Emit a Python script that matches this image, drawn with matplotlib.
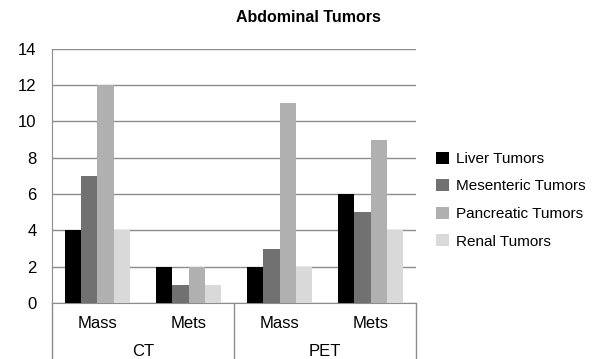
import matplotlib.pyplot as plt
import numpy as np

plt.rcParams['font.family'] = ['Liberation Sans', 'DejaVu Sans']

# data
groups = ['CT', 'PET']
subgroups = ['Mass', 'Mets', 'Mass', 'Mets']
series = ['Liver Tumors', 'Mesenteric Tumors', 'Pancreatic Tumors', 'Renal Tumors']
liver = [4, 2, 2, 6]
mesenteric = [7, 1, 3, 5]
pancreatic = [12, 2, 11, 9]
renal = [4, 1, 2, 4]

colors = ['#000000', '#717171', '#b0b0b0', '#d9d9d9']
grid_color = '#8c8c8c'
fs = 12        # axis labels
leg_fs = 11    # legend

fig = plt.figure(figsize=(5.96, 3.59), dpi=100)
ax = fig.add_axes([0.0872, 0.156, 0.611, 0.708])

x = np.arange(len(subgroups)) + 0.5
width = 0.18
for i, (name, vals) in enumerate(zip(series, [liver, mesenteric, pancreatic, renal])):
    ax.bar(x + (i - 1.5) * width, vals, width, color=colors[i], label=name, zorder=3)

ax.set_xlim(0, 4)
ax.set_ylim(0, 14)
ax.set_yticks(range(0, 15, 2))
ax.tick_params(axis='y', length=0, pad=11, labelsize=fs)
ax.set_xticks([])
ax.yaxis.grid(True, color=grid_color, linewidth=1)
ax.set_axisbelow(True)
for s in ['top', 'right']:
    ax.spines[s].set_visible(False)
ax.spines['left'].set_color(grid_color)
ax.spines['bottom'].set_color(grid_color)

# two-level category axis drawn below the plot
trans = ax.get_xaxis_transform()
for xv in [0, 2, 4]:
    ax.plot([xv, xv], [0, -0.23], color=grid_color, linewidth=1,
            transform=trans, clip_on=False)
for xv, lab in zip(x, subgroups):
    ax.text(xv, -0.079, lab, transform=trans, ha='center', va='center', fontsize=fs)
for xv, lab in zip([1, 3], groups):
    ax.text(xv, -0.19, lab, transform=trans, ha='center', va='center', fontsize=fs)

fig.text(0.517, 0.952, 'Abdominal Tumors', ha='center', va='center',
         fontsize=11.5, fontweight='bold')

ax.legend(loc='center left', bbox_to_anchor=(1.038, 0.405), frameon=False,
          borderaxespad=0, fontsize=leg_fs, handlelength=0.85, handleheight=0.85,
          handletextpad=0.45, labelspacing=0.86)

fig.savefig('out.png', dpi=100)
